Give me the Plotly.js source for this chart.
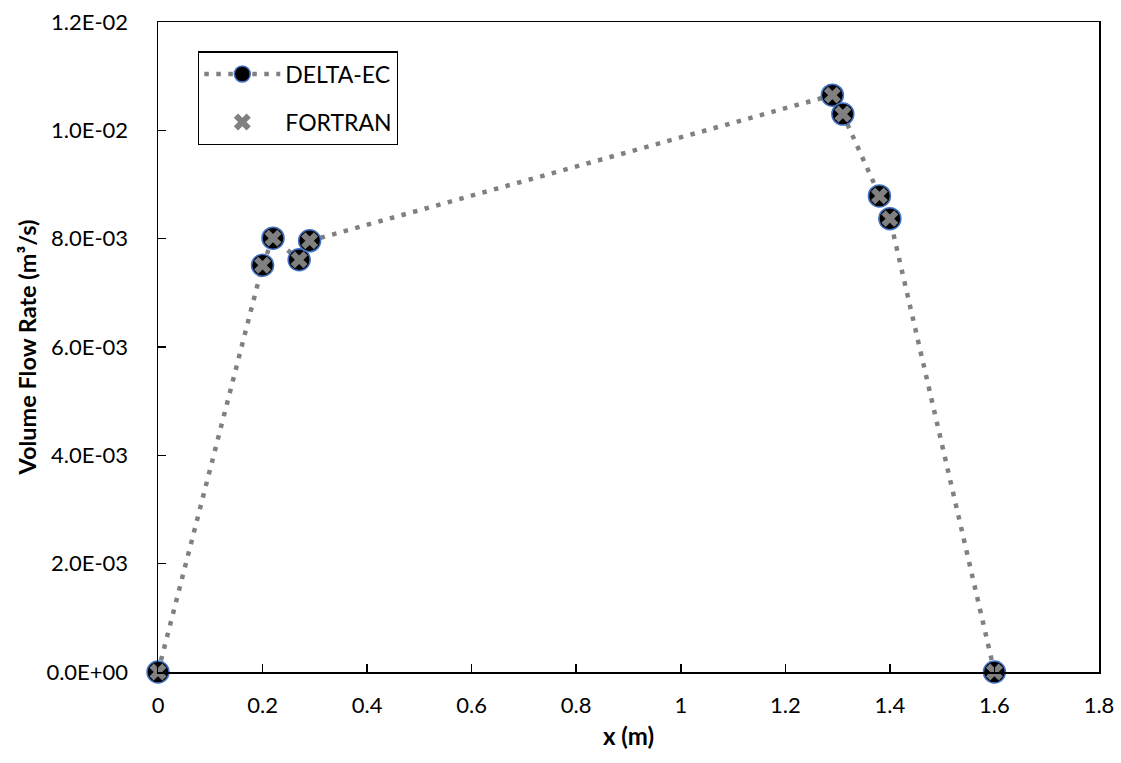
<!DOCTYPE html>
<html>
<head>
<meta charset="utf-8">
<script src="https://cdn.plot.ly/plotly-3.0.1.min.js"></script>
<style>html,body{margin:0;padding:0;background:#fff;}#chart{width:1121px;height:763px;}</style>
</head>
<body>
<div id="chart"></div>
<script>
const xPos = [0, 0.2, 0.22, 0.27, 0.29, 1.29, 1.31, 1.38, 1.40, 1.6];
const deltaEC = [0, 0.00751, 0.00801, 0.00761, 0.00796, 0.01065, 0.01030, 0.00879, 0.00837, 0];
const fortran = [0, 0.00751, 0.00801, 0.00761, 0.00796, 0.01065, 0.01030, 0.00879, 0.00837, 0];
const yTickVals = [0, 0.002, 0.004, 0.006, 0.008, 0.010, 0.012];
const yTickText = ["0.0E+00", "2.0E-03", "4.0E-03", "6.0E-03", "8.0E-03", "1.0E-02", "1.2E-02"];
const xTickVals = [0, 0.2, 0.4, 0.6, 0.8, 1, 1.2, 1.4, 1.6, 1.8];
const xTickText = ["0", "0.2", "0.4", "0.6", "0.8", "1", "1.2", "1.4", "1.6", "1.8"];

const FONT = "Lato, 'Open Sans', sans-serif";

const traces = [
  {
    x: xPos, y: deltaEC, name: "DELTA-EC", type: "scatter", mode: "lines+markers",
    legendgroup: "a", cliponaxis: false,
    line: {color: "#808080", width: 4.5, dash: "4.5px,7.5px"},
    marker: {symbol: "circle", size: 22, color: "#000000", line: {color: "#4472C4", width: 1.5}}
  },
  {
    x: xPos, y: fortran, name: "FORTRAN", type: "scatter", mode: "markers",
    legendgroup: "b", cliponaxis: false,
    marker: {symbol: "x", size: 15, color: "#808080", line: {width: 0}}
  }
];

const layout = {
  width: 1121, height: 763,
  margin: {l: 158, r: 22, t: 22, b: 91},
  paper_bgcolor: "#ffffff", plot_bgcolor: "#ffffff",
  font: {family: FONT, color: "#000000", size: 22},
  showlegend: true,
  legend: {
    x: 0.0425, y: 0.955, xanchor: "left", yanchor: "top",
    bgcolor: "#ffffff", bordercolor: "#000000", borderwidth: 1.3,
    font: {family: FONT, size: 23, color: "#000000"},
    itemwidth: 76, tracegroupgap: 15, traceorder: "grouped"
  },
  xaxis: {
    range: [0, 1.8], tickmode: "array", tickvals: xTickVals, ticktext: xTickText,
    ticks: "inside", ticklen: 8, tickwidth: 1.5, tickcolor: "#000",
    showline: true, linecolor: "#000", linewidth: 1.5, mirror: true,
    showgrid: false, zeroline: false, ticklabelstandoff: 13,
    tickfont: {family: FONT, size: 22, color: "#000"},
    title: {text: "<b>x (m)</b>", standoff: 11, font: {family: FONT, size: 24, color: "#000"}}
  },
  yaxis: {
    range: [0, 0.012], tickmode: "array", tickvals: yTickVals, ticktext: yTickText,
    ticks: "inside", ticklen: 8, tickwidth: 1.5, tickcolor: "#000",
    showline: true, linecolor: "#000", linewidth: 1.5, mirror: true,
    showgrid: false, zeroline: false, ticklabelstandoff: 24,
    tickfont: {family: FONT, size: 22, color: "#000"},
    title: {text: "<b>Volume Flow Rate (m³/s)</b>", standoff: 3, font: {family: FONT, size: 23.5, color: "#000"}}
  }
};

Plotly.newPlot("chart", traces, layout, {displayModeBar: false, staticPlot: true});
</script>
</body>
</html>
